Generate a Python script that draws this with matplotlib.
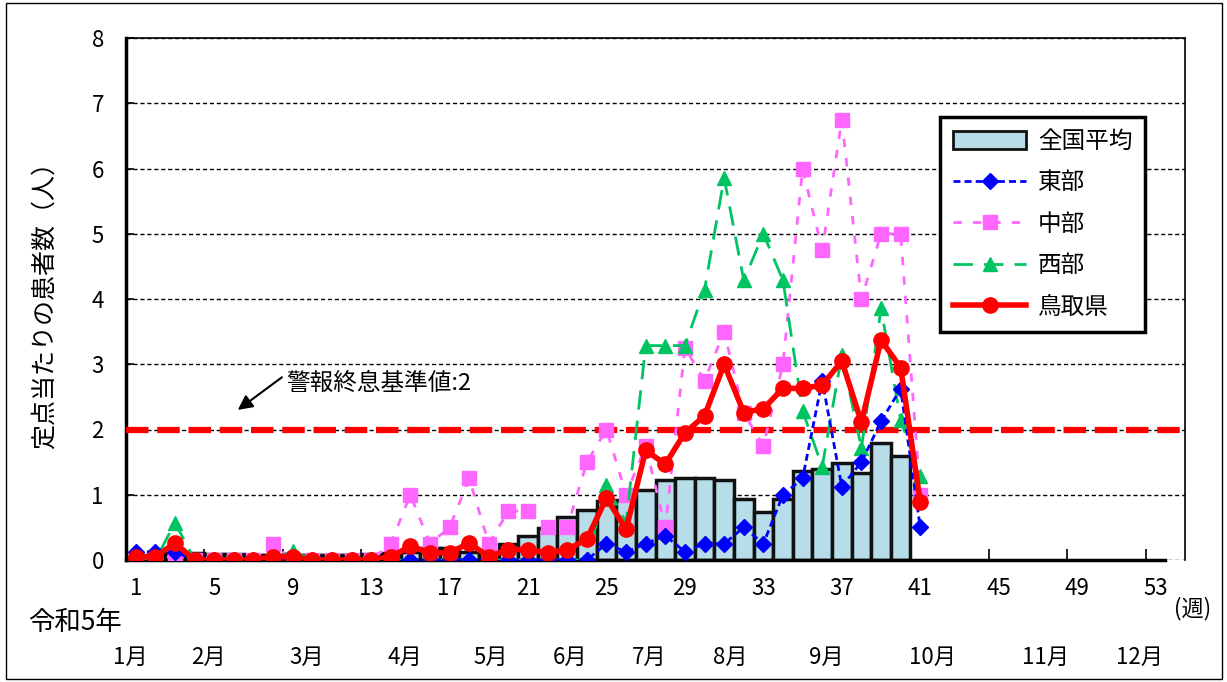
import matplotlib
matplotlib.use("Agg")
import matplotlib.pyplot as plt
from matplotlib.lines import Line2D
from matplotlib.patches import Patch, Rectangle

plt.rcParams['font.family'] = ['Noto Sans CJK JP', 'DejaVu Sans']

# data (per-sentinel weekly counts, 2023)
weeks = list(range(1, 42))
national = [0.05, 0.07, 0.1, 0.1, 0.09, 0.09, 0.08, 0.08, 0.08, 0.08,
            0.08, 0.08, 0.09, 0.1, 0.13, 0.18, 0.18, 0.12, 0.1, 0.25,
            0.37, 0.49, 0.66, 0.77, 0.9, 0.92, 1.08, 1.22, 1.25, 1.26,
            1.23, 0.94, 0.74, 0.94, 1.36, 1.4, 1.49, 1.33, 1.79, 1.6]
east = [0.125, 0.125, 0.125, 0, 0, 0, 0, 0, 0, 0,
        0, 0, 0, 0, 0, 0, 0, 0, 0, 0,
        0, 0, 0, 0, 0.25, 0.125, 0.25, 0.375, 0.125, 0.25,
        0.25, 0.5, 0.25, 1.0, 1.25, 2.75, 1.125, 1.5, 2.125, 2.625, 0.5]
central = [0, 0, 0, 0, 0, 0, 0, 0.25, 0, 0,
           0, 0, 0, 0.25, 1.0, 0.25, 0.5, 1.25, 0.25, 0.75,
           0.75, 0.5, 0.5, 1.5, 2.0, 1.0, 1.75, 0.5, 3.25, 2.75,
           3.5, 2.25, 1.75, 3.0, 6.0, 4.75, 6.75, 4.0, 5.0, 5.0, 1.0]
west = [0, 0, 0.571, 0, 0, 0, 0, 0, 0.143, 0,
        0, 0, 0, 0, 0, 0, 0, 0, 0, 0,
        0, 0, 0, 0, 1.143, 0.571, 3.286, 3.286, 3.286, 4.143,
        5.857, 4.286, 5.0, 4.286, 2.286, 1.429, 3.143, 1.714, 3.857, 2.143, 1.286]
tottori = [0.05, 0.05, 0.26, 0, 0, 0, 0, 0.05, 0.05, 0,
           0, 0, 0, 0.05, 0.21, 0.11, 0.11, 0.26, 0.05, 0.16,
           0.16, 0.11, 0.16, 0.32, 0.95, 0.47, 1.68, 1.47, 1.95, 2.21,
           3.0, 2.26, 2.32, 2.63, 2.63, 2.68, 3.05, 2.11, 3.37, 2.95, 0.89]
alert_level = 2
week_labels = list(range(1, 54, 4))
months = ["1月", "2月", "3月", "4月", "5月", "6月", "7月", "8月", "9月", "10月", "11月", "12月"]
month_pos = [0.7, 4.7, 9.7, 14.7, 19.1, 23.15, 27.2, 31.3, 36.2, 41.6, 47.4, 52.2]

fig = plt.figure(figsize=(12.27, 6.82), dpi=100)
ax = fig.add_axes([126 / 1227, 122 / 682, 1059 / 1227, 522 / 682])

ax.bar(range(1, len(national) + 1), national, width=1.0, color='#B7DDE8',
       edgecolor='#111111', linewidth=2.5, zorder=2)

ax.axhline(alert_level, color='#FF0000', lw=4.5, dashes=(3.6, 1.4), zorder=3)

ax.plot(weeks, east, color='#0000FF', lw=2, dashes=(2.5, 1.5), marker='D',
        markersize=8, zorder=5)
ax.plot(weeks, central, color='#FF66FF', lw=2, dashes=(3, 4), marker='s',
        markersize=10, zorder=4)
ax.plot(weeks, west, color='#00C462', lw=2, dashes=(7, 4), marker='^',
        markersize=10, zorder=4)
ax.plot(weeks, tottori, color='#FF0000', lw=4, marker='o', markersize=11, zorder=6)

ax.set_xlim(0.5, 54.5)
ax.set_ylim(0, 8)
ax.set_axisbelow(True)
ax.yaxis.grid(True, color='black', lw=1, linestyle=(0, (3, 2)))
ax.set_yticks(range(0, 9))
ax.tick_params(axis='y', direction='in', length=6, width=1.2, labelsize=16, pad=16)

ax.set_xticks([0.5 + 4 * i for i in range(14)])
ax.set_xticklabels([])
ax.set_xticks(week_labels, minor=True)
ax.set_xticklabels([str(w) for w in week_labels], minor=True)
ax.tick_params(axis='x', which='major', direction='in', length=8, width=1.2)
ax.tick_params(axis='x', which='minor', length=0, labelsize=16, pad=12)

for s in ['left', 'bottom']:
    ax.spines[s].set_linewidth(2.5)
for s in ['top', 'right']:
    ax.spines[s].set_linewidth(1.2)
ax.spines['bottom'].set_bounds(0.5, 53.5)

ax.set_ylabel("定点当たりの患者数（人）", fontsize=18, labelpad=24)

ax.annotate("警報終息基準値:2", xy=(8.65, 2.71), fontsize=17, va='center', ha='left')
ax.annotate("", xy=(6.2, 2.3), xytext=(8.45, 2.8),
            arrowprops=dict(arrowstyle='-|>', color='black', lw=1.5,
                            mutation_scale=22, shrinkA=0, shrinkB=0))

for m, p in zip(months, month_pos):
    ax.text(p, -1.49, m, fontsize=16, ha='center', va='center', clip_on=False)
fig.text(28 / 1227, 1 - 622 / 682, "令和5年", fontsize=19, ha='left', va='center')
fig.text(1193 / 1227, 1 - 609 / 682, "(週)", fontsize=16, ha='center', va='center')

handles = [
    Patch(facecolor='#B7DDE8', edgecolor='#111111', linewidth=2),
    Line2D([], [], color='#0000FF', lw=2, dashes=(2.5, 1.5), marker='D', markersize=8),
    Line2D([], [], color='#FF66FF', lw=2, dashes=(3, 4), marker='s', markersize=10),
    Line2D([], [], color='#00C462', lw=2, dashes=(7, 4), marker='^', markersize=10),
    Line2D([], [], color='#FF0000', lw=4, marker='o', markersize=11),
]
leg = ax.legend(handles, ["全国平均", "東部", "中部", "西部", "鳥取県"],
                loc='upper left', bbox_to_anchor=(814 / 1059, 1 - 79 / 522),
                borderaxespad=0, fontsize=17, handlelength=3.1, handleheight=0.8,
                handletextpad=0.5, labelspacing=0.78, borderpad=0.55,
                fancybox=False, framealpha=1, edgecolor='black')
leg.get_frame().set_linewidth(2.5)

fig.patches.append(Rectangle((6 / 1227, 3 / 682), 1216 / 1227, 676 / 682,
                             transform=fig.transFigure, fill=False,
                             edgecolor='black', lw=1))

fig.savefig("out.png", dpi=100)
